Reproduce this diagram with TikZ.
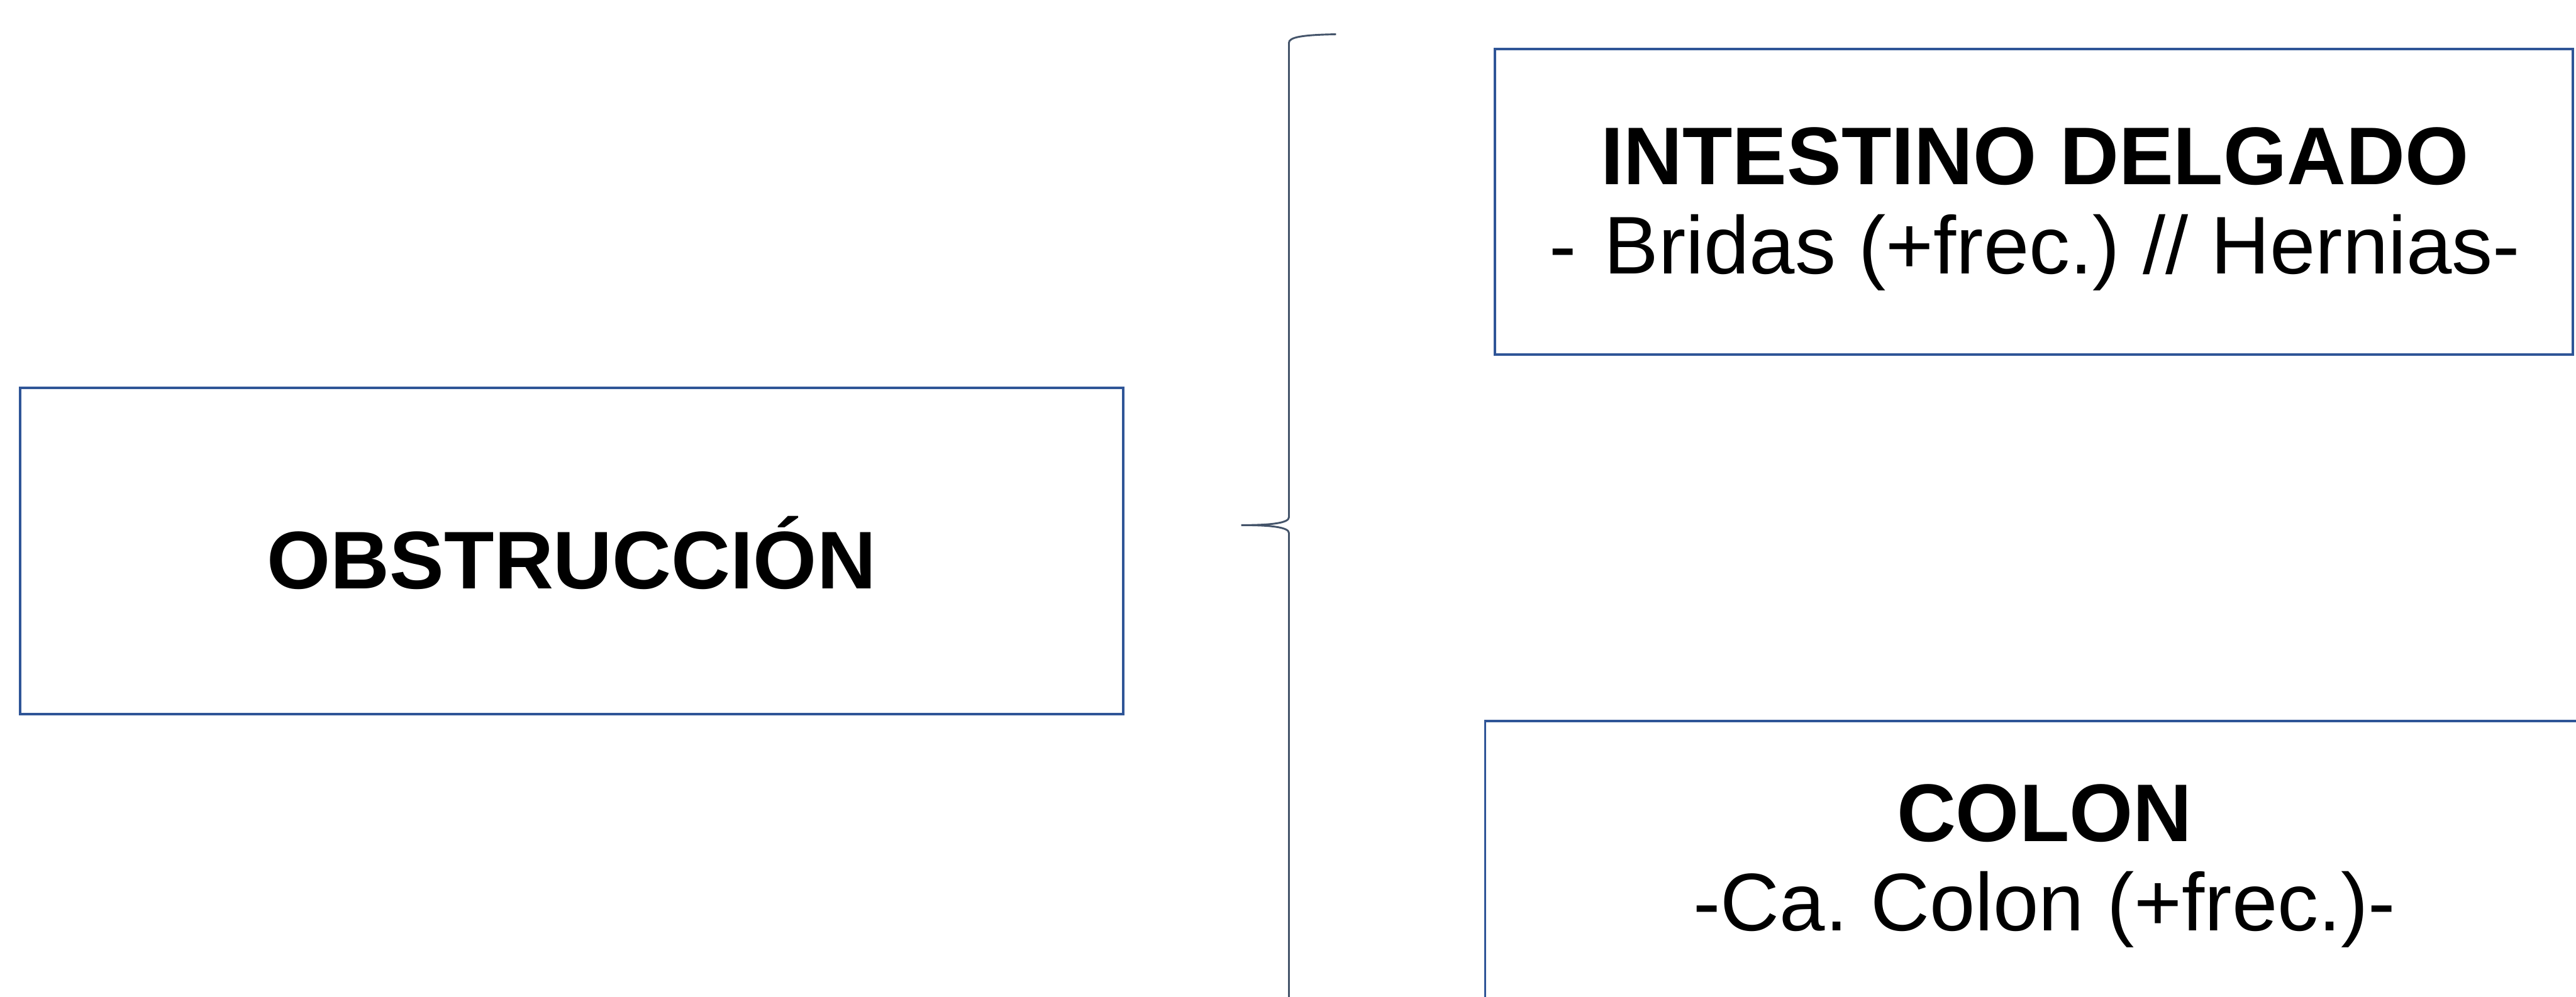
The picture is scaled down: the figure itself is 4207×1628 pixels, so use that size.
\documentclass[tikz,border=0pt]{standalone}
\usepackage{fontspec}
\setmainfont{Liberation Sans}
\frenchspacing
\definecolor{boxblue}{HTML}{2F5597}
\definecolor{bracegray}{HTML}{44546A}
\tikzset{
  box/.style={draw=boxblue, line width=1.15pt, inner sep=0pt, outer sep=0pt},
  boxtext/.style={inner sep=0pt, outer sep=0pt, align=center,
    font=\fontsize{38}{41.5}\selectfont},
  bracepath/.style={draw=bracegray, line width=0.85pt}
}
\begin{document}
\begin{tikzpicture}[x=0.01cm,y=-0.01cm]
\useasboundingbox (0,0) rectangle (4207,1628);
\clip (0,0) rectangle (4207,1628);
\fill[white] (0,0) rectangle (4207,1628);
% boxes
\node[box, minimum width=18.01cm, minimum height=5.33cm] (obs) at (933.5,900.5) {};
\node[boxtext] (obstext) at (933.5,903) {\textbf{OBSTRUCCIÓN}};
\node[box, minimum width=17.59cm, minimum height=4.99cm] (intd) at (3321.5,329.5) {};
\node[boxtext] (intdtext) at (3323,342)
  {\textbf{INTESTINO DELGADO}\\-\hspace{0.45cm}Bridas (+frec.) // Hernias-};
\node[box, minimum width=18.26cm, minimum height=4.60cm] (colon) at (3339,1408) {};
\node[boxtext] (colontext) at (3339,1415)
  {\textbf{COLON}\\-Ca. Colon (+frec.)-};
% brace
\coordinate (btop) at (2182,56);
\coordinate (btip) at (2027,858);
\coordinate (bbot) at (2105,1700);
\draw[bracepath] (btop) .. controls (2125,57) and (2105,61) .. (2105,70)
  -- (2105,845) .. controls (2105,854) and (2080,858) .. (btip)
  .. controls (2080,858) and (2105,862) .. (2105,871) -- (bbot);
\end{tikzpicture}
\end{document}
